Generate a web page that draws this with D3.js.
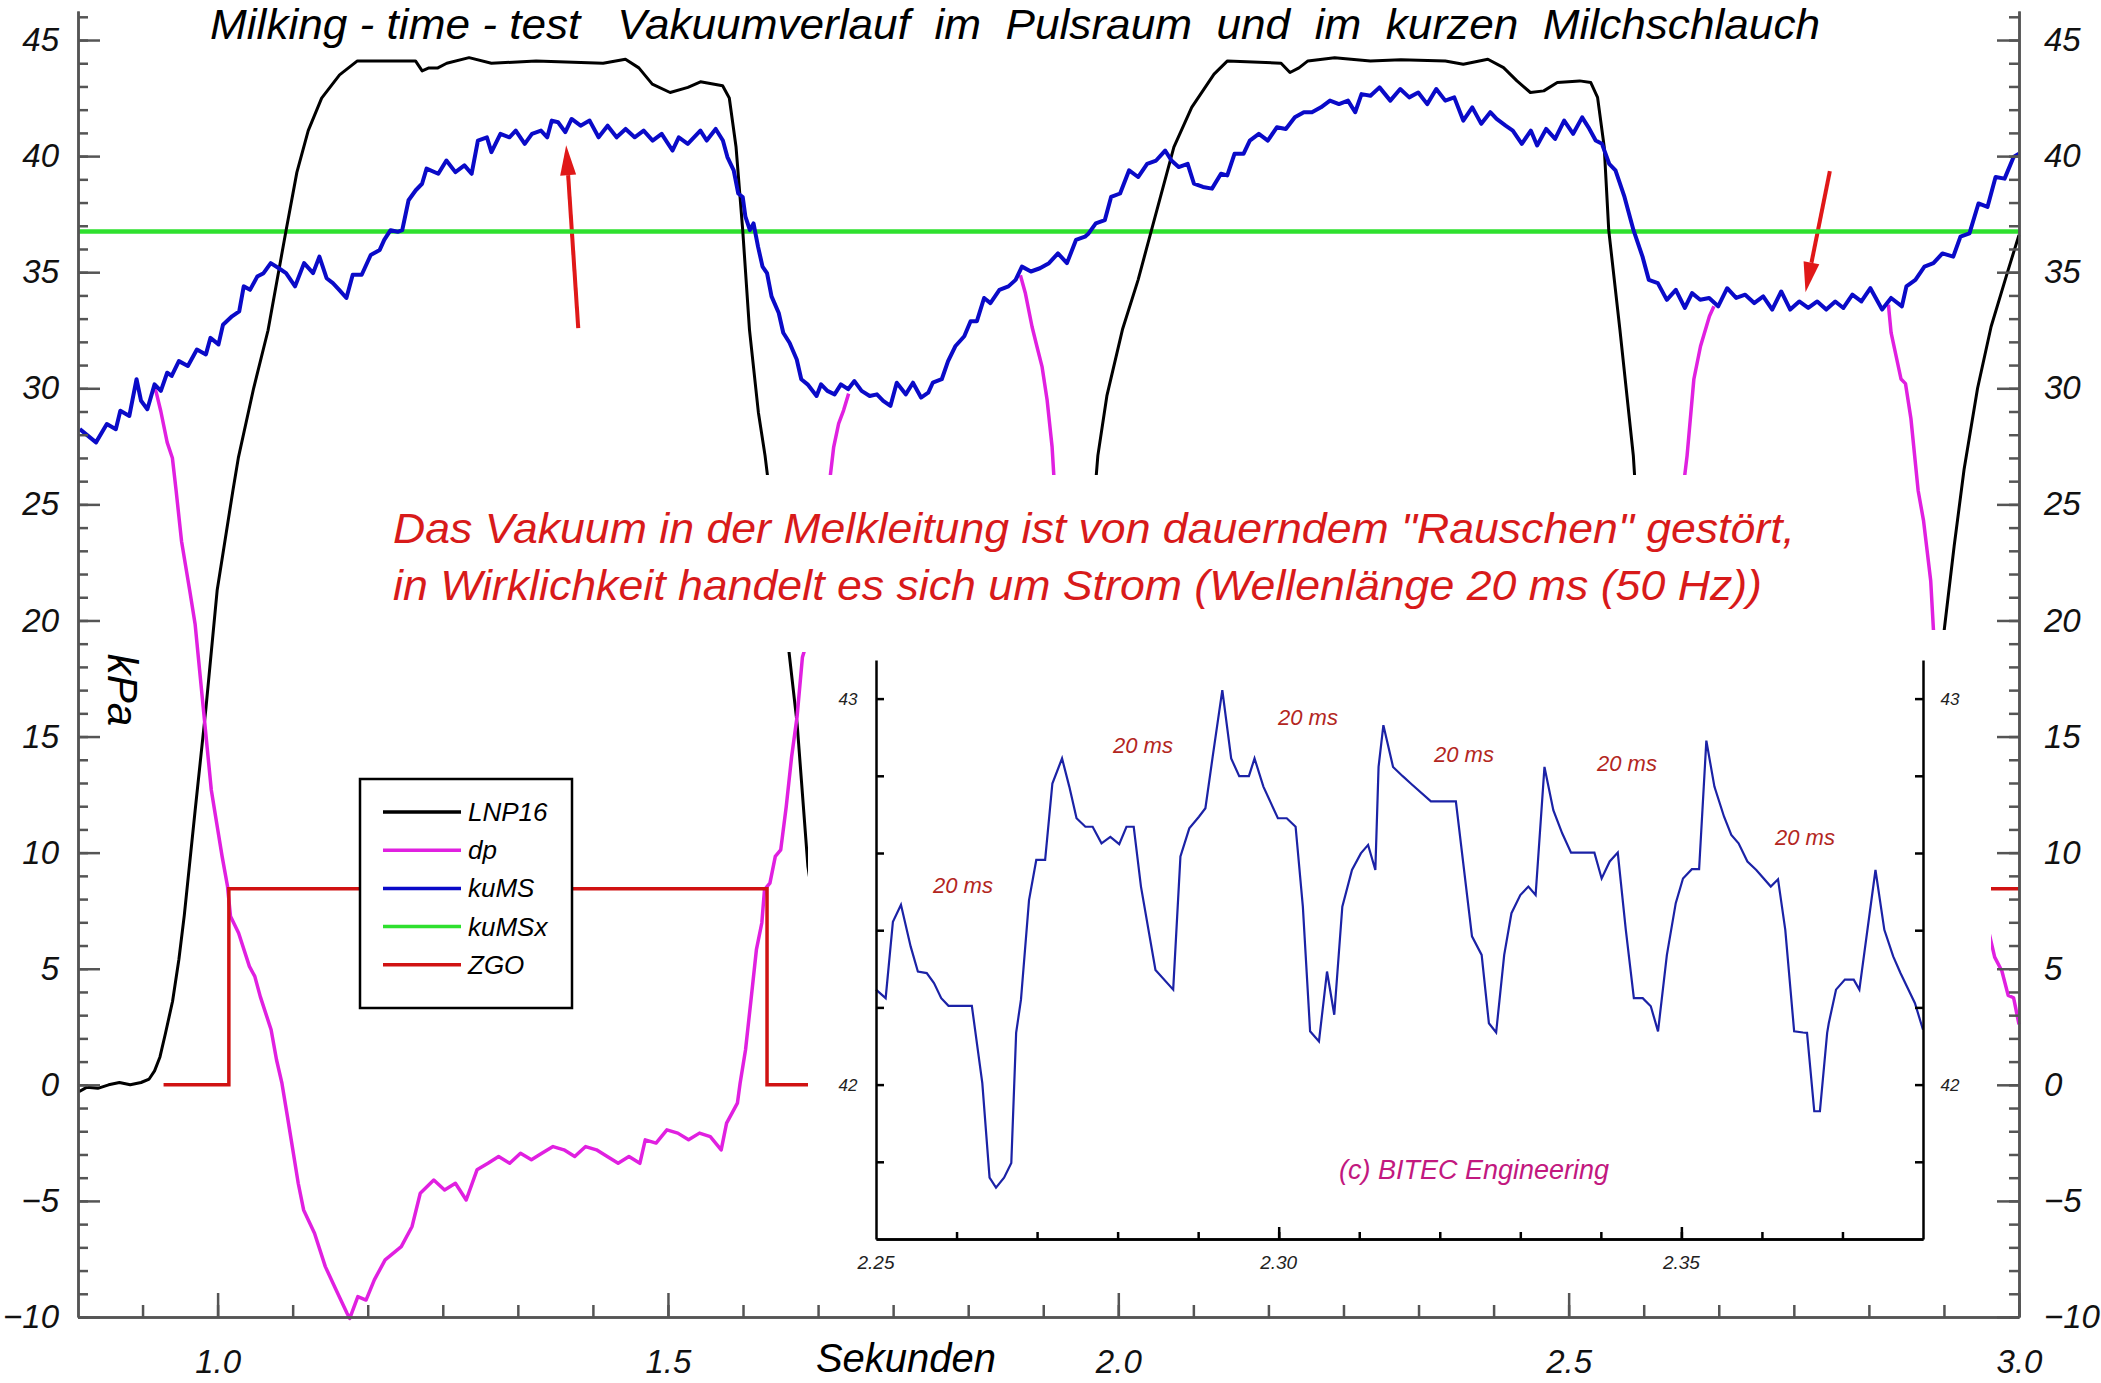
<!DOCTYPE html>
<html><head><meta charset="utf-8">
<script src="https://cdn.jsdelivr.net/npm/d3@7"></script>
<style>
html,body{margin:0;padding:0;background:#fff;}
svg{display:block;}
text{font-family:"Liberation Sans",Arial,sans-serif;font-style:italic;}
</style></head><body>
<svg id="chart" width="2101" height="1383"></svg>
<script>
// ---------------- DATA ----------------
const seriesNames = ["LNP16","dp","kuMS","kuMSx","ZGO"];
const seriesColors = ["#000000","#e020e0","#0a0ac8","#2ee02e","#d01212"];
const xTickLabels = [1.0, 1.5, 2.0, 2.5, 3.0];
const yTickLabels = [-10,-5,0,5,10,15,20,25,30,35,40,45];
const insetXTickLabels = [2.25, 2.30, 2.35];
const insetYTickLabels = [42, 43];
const titleText = "Milking - time - test   Vakuumverlauf  im  Pulsraum  und  im  kurzen  Milchschlauch";
const noteLines = ["Das Vakuum in der Melkleitung ist von dauerndem \"Rauschen\" gestört,",
                   "in Wirklichkeit handelt es sich um Strom (Wellenlänge 20 ms (50 Hz))"];
const periodLabel = "20 ms";
const copyrightText = "(c) BITEC Engineering";

// LNP16 (black) [s, kPa]
const LNP16 = [[0.846,-0.3],[0.855,-0.1],[0.867,-0.15],[0.879,0.0],[0.891,0.1],[0.903,0.0],[0.915,0.1],[0.924,0.25],[0.930,0.6],[0.936,1.2],[0.942,2.2],[0.950,3.6],[0.957,5.4],[0.963,7.3],[0.975,11.8],[0.987,16.2],[0.9995,21.3],[1.017,25.6],[1.023,27.0],[1.040,30.0],[1.056,32.5],[1.076,36.8],[1.088,39.3],[1.1006,41.1],[1.1155,42.5],[1.1354,43.5],[1.1552,44.1],[1.2048,44.1],[1.2197,44.1],[1.2271,43.67],[1.2346,43.8],[1.2445,43.8],[1.2544,44.0],[1.2792,44.24],[1.304,44.0],[1.3536,44.1],[1.428,44.0],[1.4528,44.17],[1.4677,43.8],[1.4826,43.1],[1.5024,42.74],[1.5222,42.96],[1.5361,43.2],[1.5607,43.03],[1.5681,42.5],[1.5756,40.39],[1.583,36.81],[1.5905,32.53],[1.6004,28.96],[1.6078,27.1],[1.634,18.78],[1.6434,15.56],[1.6554,9.4],[1.68,3.0],[1.71,0.6],[1.75,0.2],[1.85,0.1],[1.885,0.3],[1.905,2.0],[1.93,7.5],[1.955,16.5],[1.9773,27.1],[1.9873,29.67],[2.0046,32.53],[2.022,34.67],[2.0319,36.1],[2.0468,38.24],[2.0617,40.39],[2.0815,42.1],[2.1063,43.53],[2.1212,44.1],[2.1807,44.0],[2.1906,43.6],[2.2006,43.8],[2.2105,44.1],[2.2402,44.24],[2.2799,44.1],[2.3137,44.15],[2.3631,44.1],[2.383,43.96],[2.4103,44.17],[2.4277,43.81],[2.4426,43.24],[2.4575,42.74],[2.4724,42.81],[2.4874,43.17],[2.5122,43.24],[2.5246,43.17],[2.5321,42.53],[2.5395,40.39],[2.5445,36.81],[2.5569,32.53],[2.5718,27.1],[2.59,16],[2.61,6],[2.64,1.0],[2.70,0.2],[2.85,0.2],[2.87,3.5],[2.895,11],[2.917,19.6],[2.928,23.2],[2.939,26.5],[2.954,30.0],[2.969,32.65],[2.988,35.1],[3.0,36.6]];

// dp (magenta) – null marks a break where the trace is not shown
const dp = [[0.930,30.0],[0.932,29.8],[0.937,29.0],[0.944,27.67],[0.9498,27.0],[0.954,25.57],[0.960,23.4],[0.969,21.3],[0.975,19.85],[0.984,16.27],[0.993,12.7],[0.999,11.27],[1.005,9.84],[1.011,8.55],[1.0143,7.26],[1.0233,6.54],[1.0353,5.1],[1.0413,4.67],[1.0474,3.8],[1.0594,2.37],[1.0654,1.08],[1.0714,0.07],[1.0775,-1.36],[1.0835,-2.8],[1.0895,-4.24],[1.0955,-5.39],[1.1076,-6.39],[1.1196,-7.83],[1.1316,-8.84],[1.1437,-9.84],[1.1467,-10.06],[1.1557,-9.12],[1.1648,-9.27],[1.174,-8.4],[1.186,-7.54],[1.2039,-6.97],[1.2159,-6.1],[1.225,-4.67],[1.24,-4.1],[1.252,-4.53],[1.264,-4.24],[1.276,-4.96],[1.288,-3.66],[1.3002,-3.38],[1.312,-3.09],[1.3243,-3.38],[1.3363,-2.95],[1.3484,-3.23],[1.36,-2.95],[1.3724,-2.66],[1.3845,-2.8],[1.3965,-3.09],[1.4086,-2.66],[1.4206,-2.8],[1.4326,-3.09],[1.4447,-3.38],[1.4567,-3.09],[1.4688,-3.38],[1.4748,-2.37],[1.4868,-2.51],[1.4988,-1.94],[1.5109,-2.08],[1.5229,-2.37],[1.535,-2.08],[1.547,-2.23],[1.5591,-2.8],[1.5651,-1.65],[1.5771,-0.79],[1.5801,0.07],[1.5861,1.5],[1.5922,3.66],[1.5982,5.82],[1.6042,6.97],[1.6072,8.41],[1.6132,8.69],[1.6192,9.84],[1.6252,10.12],[1.6313,11.98],[1.6373,14.13],[1.6433,15.84],[1.6493,18.42],[1.6523,18.8],[1.6803,26.25],[1.684,27.47],[1.6895,28.48],[1.695,29.05],[1.7006,29.77],
  [1.75,null],
  [1.8913,34.87],[1.8969,34.08],[1.9043,32.64],[1.9098,31.78],[1.9154,30.92],[1.921,29.48],[1.9265,27.47],[1.9284,26.25],[1.94,22.0],
  [2.3,null],
  [2.625,25.0],[2.6315,27.1],[2.639,30.39],[2.6464,31.81],[2.6563,33.1],[2.6613,33.53],
  [2.75,null],
  [2.855,33.6],[2.858,32.4],[2.869,30.4],[2.874,30.2],[2.880,28.7],[2.888,25.6],[2.894,24.3],[2.902,21.7],[2.905,19.6],[2.93,14],[2.955,8.5],[2.973,5.5],[2.981,4.9],[2.988,3.85],[2.994,3.75],[3.0,2.6]];

// kuMS (blue)
const kuMS = [[0.847,28.24],[0.865,27.67],[0.877,28.46],[0.887,28.24],[0.892,29.03],[0.902,28.81],[0.910,30.39],[0.915,29.46],[0.922,29.1],[0.930,30.17],[0.937,29.89],[0.944,30.67],[0.949,30.53],[0.957,31.17],[0.967,30.96],[0.977,31.67],[0.987,31.46],[0.992,32.17],[1.001,31.89],[1.006,32.74],[1.016,33.1],[1.024,33.31],[1.029,34.39],[1.036,34.24],[1.044,34.81],[1.051,34.96],[1.059,35.39],[1.068,35.17],[1.076,34.96],[1.086,34.39],[1.096,35.39],[1.106,34.96],[1.113,35.67],[1.121,34.74],[1.128,34.53],[1.135,34.24],[1.143,33.89],[1.150,34.89],[1.160,34.89],[1.170,35.74],[1.180,35.96],[1.185,36.39],[1.192,36.81],[1.200,36.74],[1.205,36.81],[1.212,38.1],[1.220,38.53],[1.227,38.81],[1.232,39.46],[1.245,39.24],[1.254,39.81],[1.264,39.31],[1.274,39.6],[1.282,39.24],[1.289,40.67],[1.299,40.81],[1.304,40.17],[1.314,40.96],[1.324,40.81],[1.331,41.1],[1.341,40.53],[1.349,40.96],[1.359,41.1],[1.366,40.81],[1.371,41.53],[1.378,41.46],[1.386,41.03],[1.393,41.6],[1.403,41.31],[1.413,41.53],[1.423,40.81],[1.433,41.31],[1.443,40.81],[1.453,41.17],[1.463,40.81],[1.473,41.1],[1.483,40.67],[1.493,40.96],[1.505,40.24],[1.512,40.81],[1.522,40.53],[1.536,41.1],
  [1.543,40.67],[1.553,41.17],[1.561,40.67],[1.566,39.96],[1.573,39.39],[1.578,38.39],[1.583,38.24],[1.586,37.39],[1.591,36.81],[1.595,37.1],[1.600,36.1],[1.605,35.24],[1.610,34.96],[1.615,33.96],[1.623,33.24],[1.628,32.39],[1.635,31.96],[1.643,31.24],[1.648,30.39],[1.655,30.17],[1.665,29.67],[1.670,30.17],[1.677,29.89],[1.685,29.74],[1.692,30.17],[1.700,29.96],[1.707,30.31],[1.715,29.89],[1.724,29.67],[1.732,29.74],[1.739,29.46],[1.747,29.24],[1.754,30.24],[1.764,29.74],[1.772,30.24],[1.781,29.6],[1.789,29.81],[1.794,30.24],[1.804,30.39],[1.811,31.17],[1.819,31.81],[1.829,32.24],[1.836,32.89],[1.843,32.89],[1.851,33.89],[1.858,33.67],[1.868,34.24],[1.878,34.39],[1.886,34.67],[1.893,35.24],[1.903,35.03],[1.913,35.17],[1.923,35.39],[1.933,35.81],[1.943,35.39],[1.953,36.39],[1.963,36.53],[1.967,36.67],[1.975,37.1],[1.985,37.24],[1.992,38.24],[2.002,38.39],[2.012,39.39],[2.022,39.1],[2.032,39.67],[2.042,39.81],[2.052,40.24],[2.059,39.81],[2.067,39.53],[2.077,39.67],[2.084,38.81],[2.094,38.67],[2.104,38.6],[2.114,39.24],[2.121,39.17],[2.129,40.1],[2.139,40.1],[2.146,40.67],[2.156,40.96],[2.166,40.67],[2.176,41.24],[2.186,41.17],[2.196,41.67],[2.206,41.89],[2.215,41.89],[2.225,42.1],[2.235,42.39],[2.245,42.24],[2.255,42.39],[2.263,41.89],[2.270,42.67],[2.280,42.6],[2.290,42.96],[2.302,42.39],
  [2.313,42.89],[2.323,42.53],[2.333,42.74],[2.343,42.24],[2.353,42.89],[2.363,42.39],[2.373,42.53],[2.383,41.53],[2.393,42.1],[2.403,41.39],[2.413,41.89],[2.420,41.6],[2.430,41.31],[2.438,41.1],[2.448,40.53],[2.458,41.1],[2.465,40.46],[2.475,41.17],[2.485,40.74],[2.495,41.53],[2.505,40.96],[2.515,41.67],[2.522,41.24],[2.530,40.67],[2.537,40.53],[2.545,39.67],[2.552,39.39],[2.562,38.24],[2.572,36.81],[2.582,35.67],[2.589,34.67],[2.599,34.53],[2.609,33.81],[2.619,34.24],[2.629,33.46],[2.637,34.1],[2.646,33.81],[2.656,33.89],[2.666,33.53],[2.676,34.31],[2.686,33.89],[2.696,34.03],[2.706,33.67],[2.716,33.96],[2.726,33.39],[2.736,34.17],[2.746,33.39],[2.756,33.74],[2.766,33.46],[2.776,33.74],[2.786,33.39],[2.796,33.74],[2.805,33.46],[2.815,34.03],[2.825,33.74],[2.835,34.31],[2.848,33.39],[2.858,33.89],[2.870,33.53],[2.875,34.39],[2.885,34.67],[2.895,35.24],[2.905,35.39],[2.915,35.81],[2.927,35.67],[2.935,36.53],[2.945,36.67],[2.955,37.96],[2.965,37.81],[2.974,39.1],[2.984,39.03],[2.994,39.96],[3.0,40.1]];

// kuMSx (green, constant level)
const kuMSx = [[0.845,36.75],[3.0,36.75]];

// ZGO (red step signal)
const ZGO = [[0.94,0],[1.0125,0],[1.0125,8.45],[1.610,8.45],[1.610,0],[1.80,0],[1.80,8.45],[2.56,8.45],[2.56,0],[2.964,0],[2.964,8.45],[3.0,8.45]];

// inset: kuMS zoomed 2.25–2.38 s
const insetKuMS = [[2.25,42.246],[2.2512,42.224],[2.2521,42.422],[2.2531,42.466],[2.2543,42.358],[2.2552,42.293],[2.2563,42.289],[2.2572,42.263],[2.2581,42.224],[2.259,42.204],[2.2619,42.204],[2.2632,42.004],[2.2641,41.759],[2.2649,41.733],[2.2659,41.759],[2.2668,41.797],[2.2674,42.134],[2.268,42.22],[2.269,42.478],[2.2699,42.582],[2.271,42.582],[2.2719,42.78],[2.2731,42.845],[2.274,42.772],[2.2749,42.69],[2.276,42.668],[2.2769,42.668],[2.278,42.625],[2.2791,42.642],[2.2802,42.623],[2.2811,42.668],[2.282,42.668],[2.2829,42.513],[2.2847,42.297],[2.2869,42.246],[2.2878,42.591],[2.2889,42.664],[2.2901,42.694],[2.2909,42.716],[2.2918,42.849],[2.293,43.022],[2.2941,42.845],[2.2951,42.799],[2.2963,42.799],[2.297,42.845],[2.2981,42.772],[2.2999,42.69],[2.301,42.69],[2.3021,42.668],[2.303,42.461],[2.3039,42.138],[2.305,42.112],[2.306,42.293],[2.3069,42.181],[2.3079,42.461],[2.3091,42.556],[2.3102,42.599],[2.3111,42.621],[2.312,42.556],[2.3124,42.823],[2.313,42.931],[2.3142,42.823],[2.3154,42.799],[2.3164,42.78],[2.3189,42.734],[2.322,42.734],[2.324,42.384],[2.3252,42.336],[2.3261,42.159],[2.327,42.135],[2.328,42.336],[2.3289,42.444],[2.33,42.491],[2.331,42.513],[2.3319,42.491],[2.333,42.823],[2.3341,42.711],[2.3352,42.651],[2.3363,42.601],[2.3392,42.601],[2.3401,42.534],[2.3411,42.578],[2.3421,42.601],[2.3431,42.401],[2.3441,42.224],[2.3452,42.224],[2.3462,42.203],[2.3471,42.138],[2.3482,42.336],[2.3493,42.47],[2.3502,42.534],[2.3513,42.558],[2.3522,42.558],[2.3531,42.891],[2.3541,42.772],[2.3553,42.694],[2.3562,42.647],[2.3571,42.625],[2.3582,42.578],[2.3593,42.556],[2.3611,42.513],[2.362,42.532],[2.3629,42.401],[2.364,42.138],[2.3651,42.135],[2.3656,42.134],[2.3665,41.931],[2.3672,41.931],[2.3681,42.134],[2.3683,42.159],[2.3692,42.246],[2.3703,42.272],[2.3714,42.272],[2.3721,42.246],[2.3741,42.556],[2.3752,42.401],[2.3763,42.332],[2.3772,42.289],[2.379,42.211],[2.38,42.142]];

// annotation arrows [tail, tip] in data units
const arrows = [[[1.4004,32.59],[1.387,40.47]], [[2.790,39.35],[2.763,34.14]]];

// ---------------- LAYOUT ----------------
const svg = d3.select("#chart");
const M = {left:78, right:2019, top:11, bottom:1317};
const x = d3.scaleLinear().domain([0.845, 3.0]).range([M.left, M.right]);
const y = d3.scaleLinear().domain([-10, 46.25]).range([M.bottom, M.top]);
const line = d3.line().defined(d => d[1] !== null).x(d => x(d[0])).y(d => y(d[1]));

// arrows (under green line)
const arrowG = svg.append("g");
arrows.forEach(([a,b]) => {
  const x0=x(a[0]), y0=y(a[1]), x1=x(b[0]), y1=y(b[1]);
  const dx=x1-x0, dy=y1-y0, L=Math.hypot(dx,dy), ux=dx/L, uy=dy/L;
  const hl=30, hw=8;
  const bx=x1-ux*hl, by=y1-uy*hl;
  arrowG.append("line").attr("x1",x0).attr("y1",y0).attr("x2",bx).attr("y2",by)
    .attr("stroke","#e01818").attr("stroke-width",4);
  arrowG.append("path").attr("d",`M${x1},${y1}L${bx-uy*hw},${by+ux*hw}L${bx+uy*hw},${by-ux*hw}Z`)
    .attr("fill","#e01818");
});

// series
const plotG = svg.append("g");
plotG.append("path").datum(kuMSx).attr("d",line).attr("fill","none").attr("stroke",seriesColors[3]).attr("stroke-width",4.5);
plotG.append("path").datum(LNP16).attr("d",line).attr("fill","none").attr("stroke",seriesColors[0]).attr("stroke-width",3).attr("stroke-linejoin","round");
plotG.append("path").datum(dp).attr("d",line).attr("fill","none").attr("stroke",seriesColors[1]).attr("stroke-width",3.5).attr("stroke-linejoin","round");
plotG.append("path").datum(kuMS).attr("d",line).attr("fill","none").attr("stroke",seriesColors[2]).attr("stroke-width",4).attr("stroke-linejoin","round");
plotG.append("path").datum(ZGO).attr("d",line).attr("fill","none").attr("stroke",seriesColors[4]).attr("stroke-width",3.5);

// note box
svg.append("rect").attr("x",385).attr("y",475).attr("width",1425).attr("height",177).attr("fill","#fff");
noteLines.forEach((t,i) => {
  svg.append("text").attr("x",393).attr("y",543+i*57).attr("font-size",43).attr("fill","#d81a1a")
    .attr("textLength", i===0?1402:1369).attr("lengthAdjust","spacingAndGlyphs").text(t);
});

// inset background
svg.append("rect").attr("x",808).attr("y",630).attr("width",1183).attr("height",672).attr("fill","#fff");

// legend
const lg = svg.append("g");
lg.append("rect").attr("x",360).attr("y",779).attr("width",212).attr("height",229).attr("fill","#fff").attr("stroke","#000").attr("stroke-width",2.5);
seriesNames.forEach((n,i) => {
  const yy = 812 + i*38.2;
  lg.append("line").attr("x1",383).attr("x2",461).attr("y1",yy).attr("y2",yy).attr("stroke",seriesColors[i]).attr("stroke-width",3.5);
  lg.append("text").attr("x",468).attr("y",yy+9).attr("font-size",26).attr("fill","#000").text(n);
});

// inset
const xi = d3.scaleLinear().domain([2.25, 2.38]).range([876, 1923]);
const yi = d3.scaleLinear().domain([41.6, 43.1]).range([1239, 660]);
const ig = svg.append("g");
ig.append("path").datum(insetKuMS).attr("fill","none").attr("stroke","#1b22a6").attr("stroke-width",2.2)
  .attr("d", d3.line().x(d=>xi(d[0])).y(d=>yi(d[1])));
function styleAxis(g, col, w){ g.selectAll("path,line").attr("stroke",col).attr("stroke-width",w); g.selectAll("text").attr("fill","#222"); }
const iyTicks = d3.range(0,7).map(i => +(41.8 + i*0.2).toFixed(1));
const ixMinor = d3.range(1,13).map(i => +(2.25 + i*0.01).toFixed(2));
ig.append("g").attr("transform","translate(876,0)")
  .call(d3.axisLeft(yi).tickValues(iyTicks).tickSizeInner(-8).tickSizeOuter(0).tickFormat("")).call(styleAxis,"#000",2.5);
ig.append("g").attr("transform","translate(1923,0)")
  .call(d3.axisRight(yi).tickValues(iyTicks).tickSizeInner(-8).tickSizeOuter(0).tickFormat("")).call(styleAxis,"#000",2.5);
ig.append("g").attr("transform","translate(0,1239)")
  .call(d3.axisBottom(xi).tickValues(ixMinor).tickSizeInner(-7).tickSizeOuter(0).tickFormat("")).call(styleAxis,"#000",2.5);
ig.append("g").attr("transform","translate(0,1239)")
  .call(d3.axisBottom(xi).tickValues([2.30,2.35]).tickSizeInner(-12).tickSizeOuter(0).tickFormat("")).call(styleAxis,"#000",2.5);
insetXTickLabels.forEach(v => ig.append("text").attr("x",xi(v)).attr("y",1269).attr("text-anchor","middle").attr("font-size",19).attr("fill","#222").text(v.toFixed(2)));
insetYTickLabels.forEach(v => {
  ig.append("text").attr("x",848).attr("y",yi(v)+6).attr("text-anchor","middle").attr("font-size",17).attr("fill","#222").text(v);
  ig.append("text").attr("x",1950).attr("y",yi(v)+6).attr("text-anchor","middle").attr("font-size",17).attr("fill","#222").text(v);
});
[[963,885],[1143,745],[1308,717],[1464,754],[1627,763],[1805,837]].forEach(p =>
  ig.append("text").attr("x",p[0]).attr("y",p[1]+8).attr("text-anchor","middle").attr("font-size",22).attr("fill","#b3261e").text(periodLabel));
ig.append("text").attr("x",1474).attr("y",1179).attr("text-anchor","middle").attr("font-size",27).attr("fill","#c2187f").text(copyrightText);

// main axes
const yMinor = d3.range(-10, 47);
const xMinor = d3.range(0, 26).map(i => 0.9166667 + i/12);
const axG = svg.append("g");
const AX = "#555";
axG.append("g").attr("transform",`translate(${M.left},0)`)
  .call(d3.axisLeft(y).tickValues(yMinor).tickSizeInner(-10).tickSizeOuter(0).tickFormat("")).call(styleAxis,AX,2.5);
axG.append("g").attr("transform",`translate(${M.left},0)`)
  .call(d3.axisLeft(y).tickValues(yTickLabels).tickSizeInner(-22).tickSizeOuter(0).tickPadding(19).tickFormat(d3.format("d"))).call(styleAxis,AX,2.5);
axG.append("g").attr("transform",`translate(${M.right},0)`)
  .call(d3.axisRight(y).tickValues(yMinor).tickSizeInner(-10).tickSizeOuter(0).tickFormat("")).call(styleAxis,AX,2.5);
axG.append("g").attr("transform",`translate(${M.right},0)`)
  .call(d3.axisRight(y).tickValues(yTickLabels).tickSizeInner(-22).tickSizeOuter(0).tickPadding(25).tickFormat(d3.format("d"))).call(styleAxis,AX,2.5);
axG.append("g").attr("transform",`translate(0,${M.bottom})`)
  .call(d3.axisBottom(x).tickValues(xMinor).tickSizeInner(-12).tickSizeOuter(0).tickFormat("")).call(styleAxis,AX,2.5);
axG.append("g").attr("transform",`translate(0,${M.bottom})`)
  .call(d3.axisBottom(x).tickValues(xTickLabels).tickSizeInner(-24).tickSizeOuter(0).tickPadding(33).tickFormat(d3.format(".1f"))).call(styleAxis,AX,2.5);
axG.selectAll("text").attr("font-size",33).attr("fill","#111").attr("font-family","'Liberation Sans',Arial,sans-serif").attr("font-style","italic");

// title, axis titles
svg.append("text").attr("x",210).attr("y",39).attr("font-size",42).attr("fill","#000")
  .attr("textLength",1610).attr("lengthAdjust","spacingAndGlyphs").style("white-space","pre").text(titleText);
svg.append("text").attr("x",906).attr("y",1372).attr("text-anchor","middle").attr("font-size",40).attr("fill","#000").text("Sekunden");
svg.append("text").attr("transform","translate(108,690) rotate(90)").attr("text-anchor","middle").attr("font-size",42).attr("fill","#000").text("kPa");
</script>
</body></html>
